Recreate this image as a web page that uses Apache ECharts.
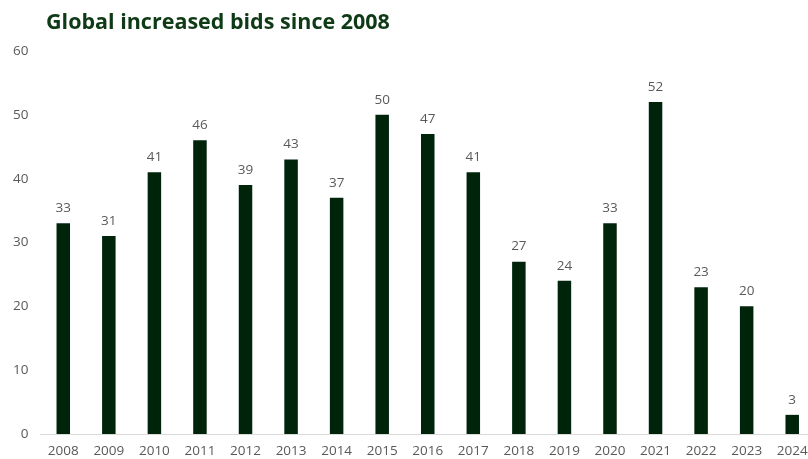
<!DOCTYPE html>
<html><head><meta charset="utf-8">
<script src="https://cdn.jsdelivr.net/npm/echarts@6/dist/echarts.min.js"></script>
<style>html,body{margin:0;padding:0;background:#fff}#c{width:808px;height:459px}</style>
</head><body><div id="c"></div>
<script>
const titleText = "Global increased bids since 2008";
const years = ["2008","2009","2010","2011","2012","2013","2014","2015","2016","2017","2018","2019","2020","2021","2022","2023","2024"];
const bids = [33,31,41,46,39,43,37,50,47,41,27,24,33,52,23,20,3];
const yTicks = {min:0, max:60, interval:10};

const chart = echarts.init(document.getElementById('c'), null, {renderer:'canvas'});
chart.setOption({
  animation:false,
  title:{text:titleText, left:41, top:7, textStyle:{fontFamily:'Open Sans', fontWeight:'bold', fontSize:21.5, color:'#0f3a16'}},
  grid:{left:40.5, top:51, bottom:25, width:774.5, outerBoundsMode:'none', containLabel:false},
  xAxis:{type:'category', data:years,
    axisLine:{lineStyle:{color:'#d9d9d9', width:1}}, axisTick:{show:false},
    axisLabel:{color:'#595959', fontFamily:'Open Sans', fontSize:13.5, margin:10}},
  yAxis:{type:'value', min:yTicks.min, max:yTicks.max, interval:yTicks.interval,
    splitLine:{show:false}, axisLine:{show:false}, axisTick:{show:false},
    axisLabel:{color:'#595959', fontFamily:'Open Sans', fontSize:13.5, margin:12}},
  series:[{type:'bar', data:bids, barWidth:13.5, itemStyle:{color:'#00240a'},
    label:{show:true, position:'top', color:'#595959', fontFamily:'Open Sans', fontSize:13.5, distance:8}}]
});
</script></body></html>
